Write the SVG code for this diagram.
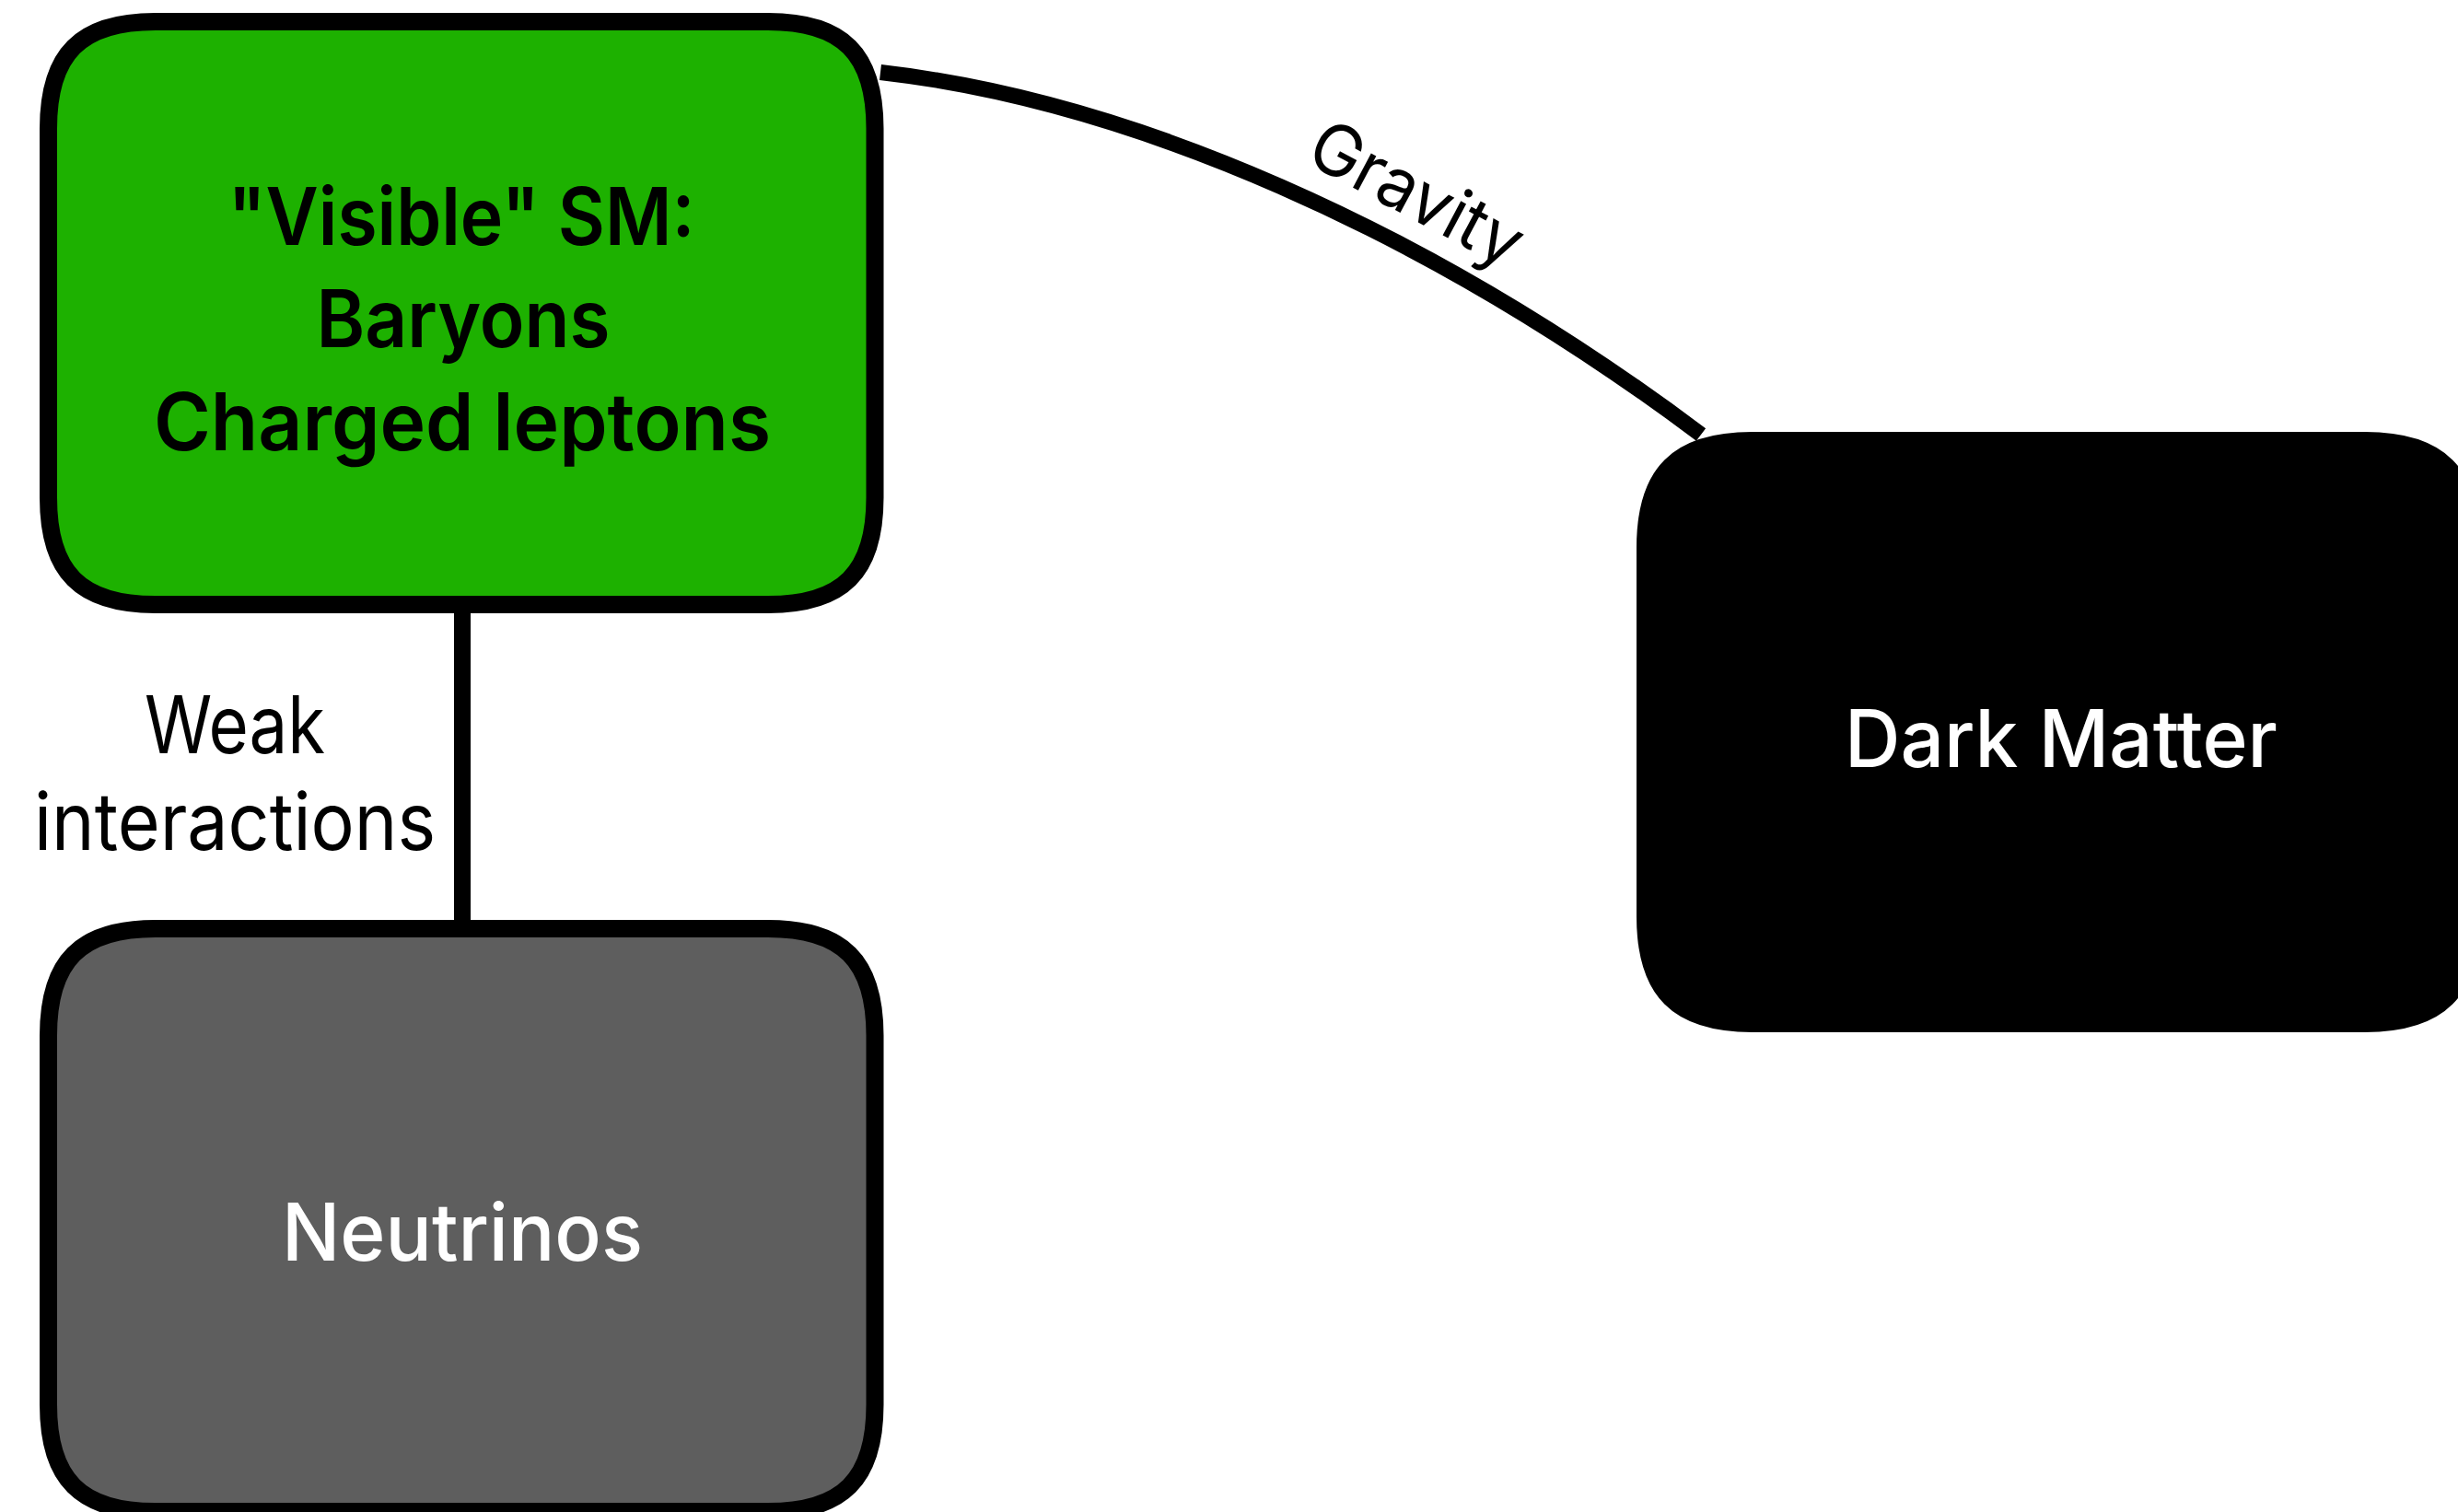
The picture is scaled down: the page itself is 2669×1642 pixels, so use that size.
<svg xmlns="http://www.w3.org/2000/svg" width="2669" height="1642" viewBox="0 0 2669 1642">
  <style>
    .box { stroke: #000; stroke-width: 19; }
    .conn { fill: none; stroke: #000; stroke-linecap: butt; }
    .t { font-family: Inter, "Liberation Sans", Arial, sans-serif; font-size: 86px; text-anchor: middle; }
    .bold { font-weight: 600; fill: #000; }
    .med { font-weight: 500; fill: #fff; }
    .lbl { font-weight: 400; fill: #000; }
  </style>
  <rect width="2669" height="1642" fill="#fff"/>
  <g id="connectors">
    <line id="weak" class="conn" x1="502" y1="656.5" x2="502" y2="1008.5" stroke-width="18"/>
    <path id="gravity" class="conn" stroke-width="17" d="M956,78.5 C1226,109.3 1547,247 1847,472"/>
    <text class="t lbl"><tspan x="255" y="818" textLength="196" lengthAdjust="spacingAndGlyphs">Weak</tspan><tspan x="255" y="923" textLength="436" lengthAdjust="spacingAndGlyphs">interactions</tspan></text>
    <text class="t lbl" style="font-size:77px" transform="translate(1526,234) rotate(28)" x="0" y="0" textLength="251" lengthAdjust="spacingAndGlyphs">Gravity</text>
  </g>
  <g id="visible-sm">
    <path class="box" fill="#1DB100" d="M168.5,23.5 H834 C915,23.5 950,58.5 950,139.5 V540.5 C950,621.5 915,656.5 834,656.5 H168.5 C87.5,656.5 52.5,621.5 52.5,540.5 V139.5 C52.5,58.5 87.5,23.5 168.5,23.5 Z"/>
    <text class="t bold" x="501" y="266" textLength="507" lengthAdjust="spacingAndGlyphs">"Visible" SM:</text>
    <text class="t bold" x="503" y="377" textLength="319" lengthAdjust="spacingAndGlyphs">Baryons</text>
    <text class="t bold" x="502" y="489" textLength="670" lengthAdjust="spacingAndGlyphs">Charged leptons</text>
  </g>
  <g id="neutrinos">
    <path class="box" fill="#5E5E5E" d="M168.5,1008.5 H834 C915,1008.5 950,1043.5 950,1124.5 V1525.5 C950,1606.5 915,1641.5 834,1641.5 H168.5 C87.5,1641.5 52.5,1606.5 52.5,1525.5 V1124.5 C52.5,1043.5 87.5,1008.5 168.5,1008.5 Z"/>
    <text class="t med" x="502" y="1369" textLength="392" lengthAdjust="spacingAndGlyphs">Neutrinos</text>
  </g>
  <g id="dark-matter">
    <path class="box" fill="#000" d="M1902.5,478.5 H2568 C2649,478.5 2684,513.5 2684,594.5 V995.5 C2684,1076.5 2649,1111.5 2568,1111.5 H1902.5 C1821.5,1111.5 1786.5,1076.5 1786.5,995.5 V594.5 C1786.5,513.5 1821.5,478.5 1902.5,478.5 Z"/>
    <text class="t med" x="2238" y="833" textLength="470" lengthAdjust="spacingAndGlyphs">Dark Matter</text>
  </g>
</svg>
